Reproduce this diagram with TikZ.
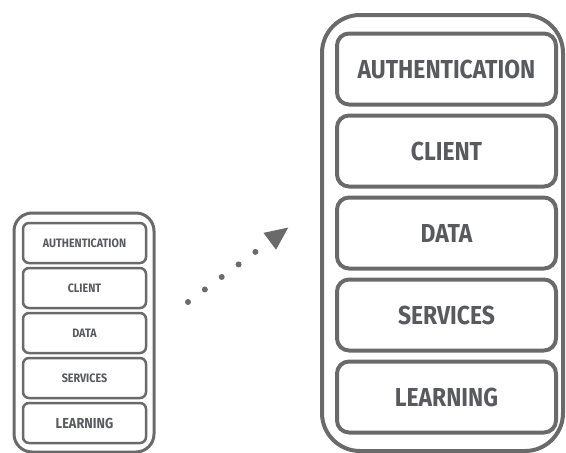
\documentclass[tikz,border=0pt]{standalone}
\usepackage{fontspec}
\newfontfamily\labelfont[FakeStretch=0.88]{Fira Sans}
\usetikzlibrary{arrows.meta}
\definecolor{edgegray}{HTML}{6A6A6A}
\definecolor{textgray}{HTML}{585A5E}
\tikzset{
  bigshell/.style={draw=edgegray, line width=4pt, rounded corners=38pt},
  smallshell/.style={draw=edgegray, line width=3pt, rounded corners=18pt},
  biglayer/.style={draw=edgegray, line width=4pt, rounded corners=12pt,
    minimum width=219pt, minimum height=71pt, inner sep=0pt,
    text=textgray, font=\labelfont\bfseries\fontsize{26}{26}\selectfont},
  smalllayer/.style={draw=edgegray, line width=2.5pt, rounded corners=6pt,
    minimum width=123pt, minimum height=40pt, inner sep=0pt,
    text=textgray, font=\labelfont\bfseries\fontsize{12.2}{12.2}\selectfont},
  hop/.style={draw=edgegray, line width=6pt, line cap=round,
    dash pattern=on 0pt off 21pt,
    -{Triangle[length=24pt, width=19pt, fill=edgegray]}}
}
\begin{document}
\begin{tikzpicture}[x=1pt, y=-1pt]
  \useasboundingbox (0,0) rectangle (566,453);

  % compact stack on the left
  \draw[smallshell] (14,213) rectangle (154,452);
  \node[smalllayer] (sauth) at (84.5,243) {AUTHENTICATION};
  \node[smalllayer] (sclient) at (84.5,288) {CLIENT};
  \node[smalllayer] (sdata) at (84.5,333) {DATA};
  \node[smalllayer] (sserv) at (84.5,378) {SERVICES};
  \node[smalllayer, font=\labelfont\bfseries\fontsize{14.5}{14.5}\selectfont] (slearn) at (84.5,423) {LEARNING};

  % enlarged stack on the right
  \draw[bigshell] (322,15) rectangle (563,451);
  \node[biglayer] (bauth) at (446.5,69) {AUTHENTICATION};
  \node[biglayer] (bclient) at (446.5,151) {CLIENT};
  \node[biglayer] (bdata) at (446.5,233) {DATA};
  \node[biglayer] (bserv) at (446.5,315) {SERVICES};
  \node[biglayer] (blearn) at (446.5,397) {LEARNING};

  % dotted zoom arrow
  \coordinate (from) at (188,302);
  \coordinate (to) at (289,227);
  \draw[hop] (from) -- (to);
\end{tikzpicture}
\end{document}
